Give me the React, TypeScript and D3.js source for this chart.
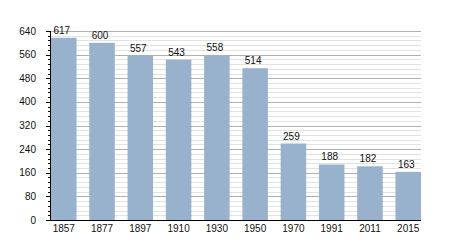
import React from "react";
import * as d3 from "d3";

const years = ["1857", "1877", "1897", "1910", "1930", "1950", "1970", "1991", "2011", "2015"];
const population = [617, 600, 557, 543, 558, 514, 259, 188, 182, 163];
const majorTicks = [0, 80, 160, 240, 320, 400, 480, 560, 640];
const minorTicks = d3.range(0, 641, 16);

export default function App() {
  const W = 450, H = 250;
  const x0 = 50, x1 = 421, yTop = 31, yBot = 220;
  const x = d3.scaleBand<string>().domain(years).range([x0 + 1, x1]).paddingInner(0.333).paddingOuter(0);
  const y = d3.scaleLinear().domain([0, 640]).range([yBot, yTop]);
  const font = "'Liberation Sans', Arial, sans-serif";
  return (
    <svg width={W} height={H} style={{ position: "absolute", left: 0, top: 0, background: "#fff" }}>
      {minorTicks.filter(t => t % 80 !== 0).map(t => (
        <line key={"m" + t} x1={x0} x2={x1} y1={Math.round(y(t)) + 0.5} y2={Math.round(y(t)) + 0.5} stroke="#e2e2e2" strokeWidth={1} />
      ))}
      {majorTicks.filter(t => t !== 0).map(t => (
        <line key={"g" + t} x1={x0} x2={x1} y1={Math.round(y(t)) + 0.5} y2={Math.round(y(t)) + 0.5} stroke="#b0b0b0" strokeWidth={1} />
      ))}
      {years.map((yr, i) => (
        <rect key={yr} x={x(yr)} y={y(population[i])} width={x.bandwidth()} height={yBot - y(population[i])} fill="#98b2cd" />
      ))}
      {years.map((yr, i) => (
        <text key={"v" + yr} x={(x(yr) as number) + x.bandwidth() / 2 - 2} y={y(population[i]) - 4} fontSize={10} fontFamily={font} textAnchor="middle" fill="#111">{population[i]}</text>
      ))}
      {minorTicks.map(t => (
        <line key={"t" + t} x1={t % 80 === 0 ? x0 - 4 : x0 - 2} x2={x0} y1={Math.round(y(t)) + 0.5} y2={Math.round(y(t)) + 0.5} stroke="#000" strokeWidth={1} />
      ))}
      <line x1={x0 + 0.5} x2={x0 + 0.5} y1={yTop} y2={yBot + 1} stroke="#000" />
      <line x1={x0} x2={x1} y1={yBot + 0.5} y2={yBot + 0.5} stroke="#000" />
      {majorTicks.map(t => (
        <text key={"yl" + t} x={36} y={y(t) + 3.5} fontSize={10} fontFamily={font} textAnchor="end" fill="#111">{t}</text>
      ))}
      {years.map(yr => (
        <text key={"xl" + yr} x={(x(yr) as number) + x.bandwidth() / 2} y={232} fontSize={10} fontFamily={font} textAnchor="middle" fill="#111">{yr}</text>
      ))}
    </svg>
  );
}
